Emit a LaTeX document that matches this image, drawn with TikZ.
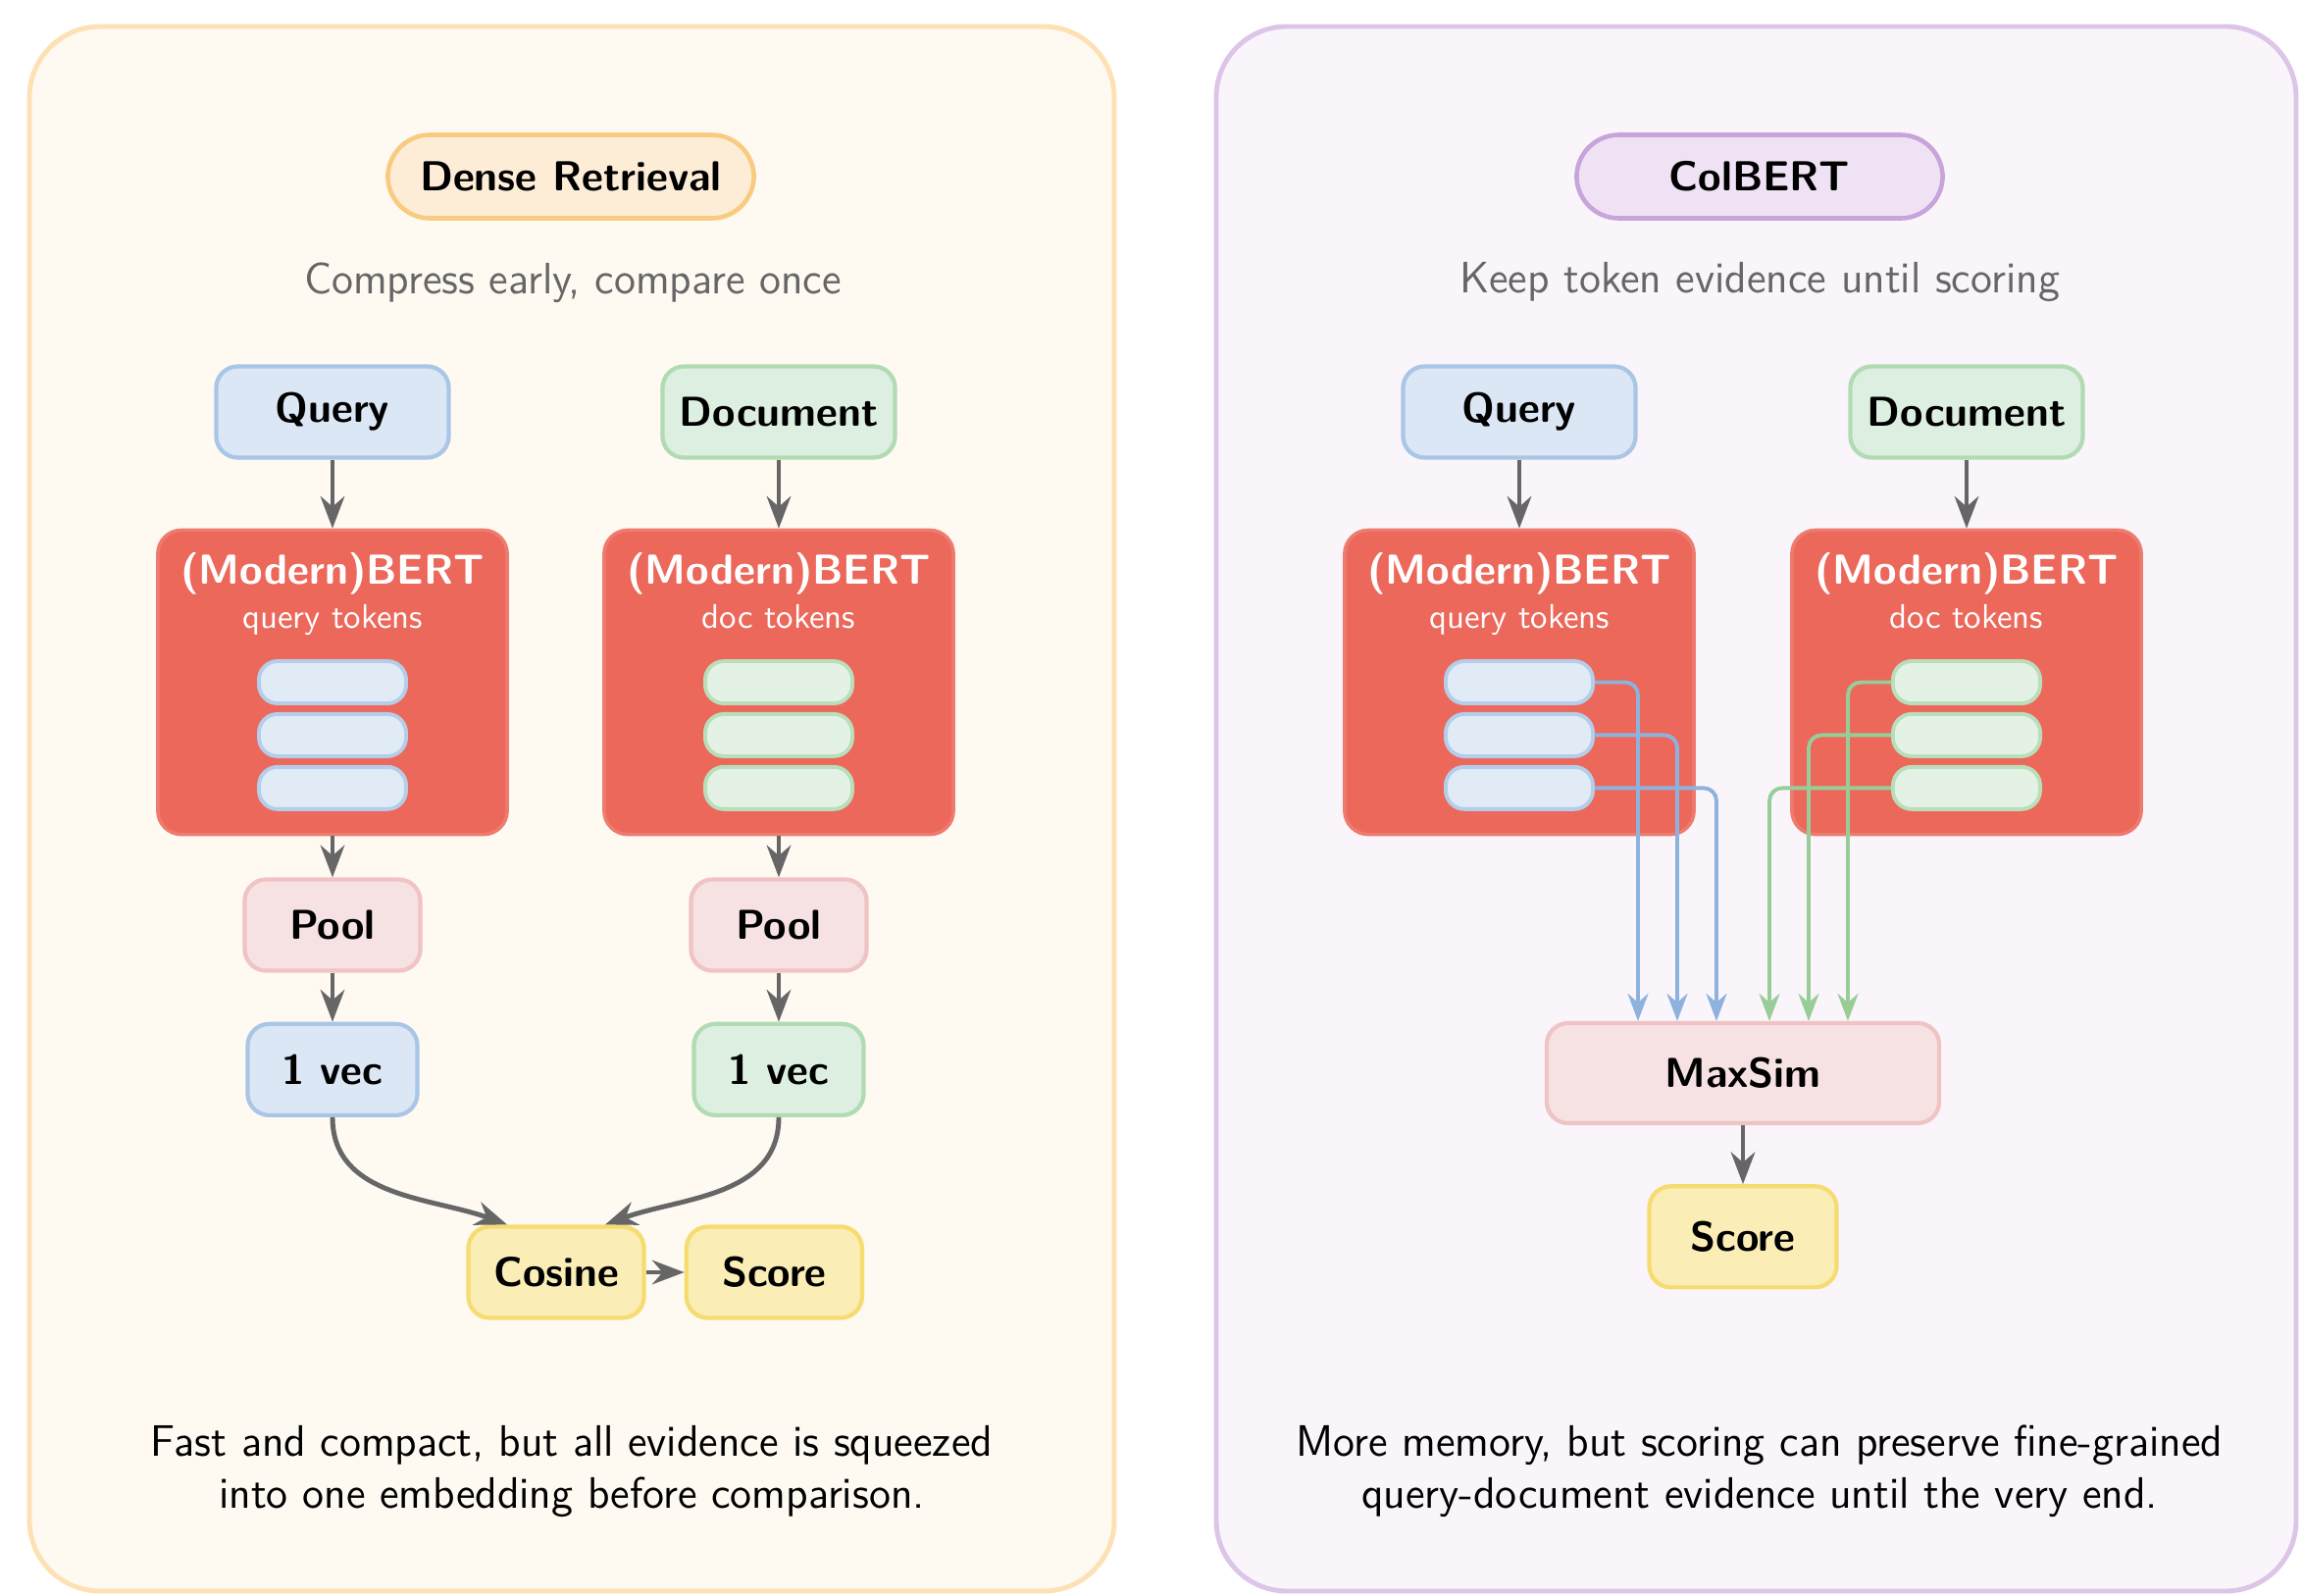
\documentclass[tikz,border=0pt]{standalone}
\usepackage{xcolor}
\usetikzlibrary{positioning,arrows.meta,calc}
\renewcommand{\familydefault}{\sfdefault}
\definecolor{densebg}{HTML}{FEF9F1}
\definecolor{denseedge}{HTML}{FDE1B4}
\definecolor{colbg}{HTML}{F9F5FA}
\definecolor{coledge}{HTML}{DCC5E8}
\definecolor{dttlfill}{HTML}{FDEDD6}
\definecolor{dttldraw}{HTML}{F9CB80}
\definecolor{cttlfill}{HTML}{EFE2F4}
\definecolor{cttldraw}{HTML}{C7A4DA}
\definecolor{qfill}{HTML}{DBE7F5}
\definecolor{qdraw}{HTML}{A9C6E7}
\definecolor{dfill}{HTML}{DDEFE0}
\definecolor{ddraw}{HTML}{B1DBB3}
\definecolor{bertred}{HTML}{EC685B}
\definecolor{bertedge}{HTML}{EE7B6F}
\definecolor{qtokfill}{HTML}{E0EBF6}
\definecolor{qtokdraw}{HTML}{B4CDEA}
\definecolor{dtokfill}{HTML}{E4F2E5}
\definecolor{dtokdraw}{HTML}{B8DEBA}
\definecolor{poolfill}{HTML}{F7E2E3}
\definecolor{pooldraw}{HTML}{F0C3C4}
\definecolor{scorefill}{HTML}{FAEDB6}
\definecolor{scoredraw}{HTML}{F6DC70}
\definecolor{flowgray}{HTML}{666666}
\definecolor{qline}{HTML}{8DB2DD}
\definecolor{dline}{HTML}{99CD98}
\definecolor{subgray}{HTML}{666666}
\tikzset{
  panel/.style    = {rounded corners=0.72cm, line width=1.4pt},
  ttl/.style      = {rectangle, rounded corners=0.43cm, line width=1.3pt, minimum width=3.73cm,
                     minimum height=0.85cm, font=\fontsize{12.15}{14}\selectfont\bfseries},
  sub/.style      = {font=\fontsize{12.75}{15}\selectfont, text=subgray},
  inbox/.style    = {rectangle, rounded corners=0.22cm, line width=1.2pt, minimum height=0.93cm,
                     font=\fontsize{12.1}{14}\selectfont\bfseries},
  qbox/.style     = {inbox, fill=qfill, draw=qdraw, minimum width=2.37cm},
  dbox/.style     = {inbox, fill=dfill, draw=ddraw, minimum width=2.37cm},
  enc/.style      = {rectangle, rounded corners=0.24cm, fill=bertred, draw=bertedge, line width=1pt,
                     minimum width=3.56cm, minimum height=3.1cm},
  enctitle/.style = {text=white, font=\fontsize{12.15}{14}\selectfont\bfseries},
  encsub/.style   = {text=white, font=\fontsize{9.9}{12}\selectfont},
  qtok/.style     = {rectangle, rounded corners=0.19cm, fill=qtokfill, draw=qtokdraw, line width=1.1pt,
                     minimum width=1.5cm, minimum height=0.43cm},
  dtok/.style     = {qtok, fill=dtokfill, draw=dtokdraw},
  poolbox/.style  = {inbox, fill=poolfill, draw=pooldraw, minimum width=1.79cm},
  qvec/.style     = {inbox, fill=qfill, draw=qdraw, minimum width=1.73cm},
  dvec/.style     = {inbox, fill=dfill, draw=ddraw, minimum width=1.73cm},
  scorebox/.style = {inbox, fill=scorefill, draw=scoredraw, minimum width=1.79cm},
  flow/.style     = {-{Stealth}, line width=1.4pt, draw=flowgray},
  qflow/.style    = {-{Stealth}, line width=1.1pt, draw=qline, rounded corners=0.13cm},
  dflow/.style    = {-{Stealth}, line width=1.1pt, draw=dline, rounded corners=0.13cm},
  note/.style     = {align=center, font=\fontsize{12.75}{15.2}\selectfont},
}

\begin{document}
\begin{tikzpicture}[x=0.01cm, y=-0.01cm]
  \useasboundingbox (0,0) rectangle (2348,1627);

  % dense retrieval panel
  \draw[panel, fill=densebg, draw=denseedge] (30,27) rectangle (1136,1622);
  \node[ttl, fill=dttlfill, draw=dttldraw] (dtitle) at (582,180) {Dense Retrieval};
  \node[sub] (dsub) at (584,288) {Compress early, compare once};

  \node[qbox] (dq) at (339,420) {Query};
  \node[dbox] (dd) at (794,420) {Document};
  \node[enc, below=0.7cm of dq] (dqenc) {};
  \node[enc, below=0.7cm of dd] (ddenc) {};
  \node[enctitle, anchor=base] at ($(dqenc.north)+(0,57)$) {(Modern)BERT};
  \node[encsub, anchor=base] at ($(dqenc.north)+(0,102)$) {query tokens};
  \node[enctitle, anchor=base] at ($(ddenc.north)+(0,57)$) {(Modern)BERT};
  \node[encsub, anchor=base] at ($(ddenc.north)+(0,102)$) {doc tokens};
  \node[qtok] (dqt1) at (dqenc.center) {};
  \node[qtok, below=0.07cm of dqt1] (dqt2) {};
  \node[qtok, below=0.07cm of dqt2] (dqt3) {};
  \node[dtok] (ddt1) at (ddenc.center) {};
  \node[dtok, below=0.07cm of ddt1] (ddt2) {};
  \node[dtok, below=0.07cm of ddt2] (ddt3) {};
  \node[poolbox, below=0.42cm of dqenc] (dqpool) {Pool};
  \node[poolbox, below=0.42cm of ddenc] (ddpool) {Pool};
  \node[qvec, below=0.5cm of dqpool] (dqvec) {1 vec};
  \node[dvec, below=0.5cm of ddpool] (ddvec) {1 vec};
  \node[scorebox] (cosine) at (567,1297) {Cosine};
  \node[scorebox, right=0.39cm of cosine] (dscore) {Score};
  \node[note] (dnote) at (583,1500) {Fast and compact, but all evidence is squeezed\\into one embedding before comparison.};

  \draw[flow] (dq) -- (dqenc);
  \draw[flow] (dd) -- (ddenc);
  \draw[flow] (dqenc) -- (dqpool);
  \draw[flow] (ddenc) -- (ddpool);
  \draw[flow] (dqpool) -- (dqvec);
  \draw[flow] (ddpool) -- (ddvec);
  \draw[flow] (dqvec.south) to[out=-90,in=160] ($(cosine.north)+(-50,0)$);
  \draw[flow] (ddvec.south) to[out=-90,in=20] ($(cosine.north)+(50,0)$);
  \draw[flow] (cosine) -- (dscore);

  % colbert panel
  \draw[panel, fill=colbg, draw=coledge] (1240,27) rectangle (2341,1622);
  \node[ttl, fill=cttlfill, draw=cttldraw] (ctitle) at (1794,180) {ColBERT};
  \node[sub] (csub) at (1794,288) {Keep token evidence until scoring};

  \node[qbox] (cq) at (1549,420) {Query};
  \node[dbox] (cd) at (2005,420) {Document};
  \node[enc, below=0.7cm of cq] (cqenc) {};
  \node[enc, below=0.7cm of cd] (cdenc) {};
  \node[enctitle, anchor=base] at ($(cqenc.north)+(0,57)$) {(Modern)BERT};
  \node[encsub, anchor=base] at ($(cqenc.north)+(0,102)$) {query tokens};
  \node[enctitle, anchor=base] at ($(cdenc.north)+(0,57)$) {(Modern)BERT};
  \node[encsub, anchor=base] at ($(cdenc.north)+(0,102)$) {doc tokens};
  \node[qtok] (cqt1) at (cqenc.center) {};
  \node[qtok, below=0.07cm of cqt1] (cqt2) {};
  \node[qtok, below=0.07cm of cqt2] (cqt3) {};
  \node[dtok] (cdt1) at (cdenc.center) {};
  \node[dtok, below=0.07cm of cdt1] (cdt2) {};
  \node[dtok, below=0.07cm of cdt2] (cdt3) {};
  \node[poolbox, minimum width=4.0cm, minimum height=1.02cm] (maxsim) at (1777,1094) {MaxSim};
  \node[scorebox, minimum width=1.91cm, minimum height=1.03cm, below=0.6cm of maxsim] (cscore) {Score};
  \node[note] (cnote) at (1794,1500) {More memory, but scoring can preserve fine-grained\\query-document evidence until the very end.};

  \draw[flow] (cq) -- (cqenc);
  \draw[flow] (cd) -- (cdenc);
  \draw[qflow] (cqt1.east) -| ($(maxsim.north)+(-107,0)$);
  \draw[qflow] (cqt2.east) -| ($(maxsim.north)+(-67,0)$);
  \draw[qflow] (cqt3.east) -| ($(maxsim.north)+(-27,0)$);
  \draw[dflow] (cdt3.west) -| ($(maxsim.north)+(27,0)$);
  \draw[dflow] (cdt2.west) -| ($(maxsim.north)+(67,0)$);
  \draw[dflow] (cdt1.west) -| ($(maxsim.north)+(107,0)$);
  \draw[flow] (maxsim) -- (cscore);
\end{tikzpicture}
\end{document}
